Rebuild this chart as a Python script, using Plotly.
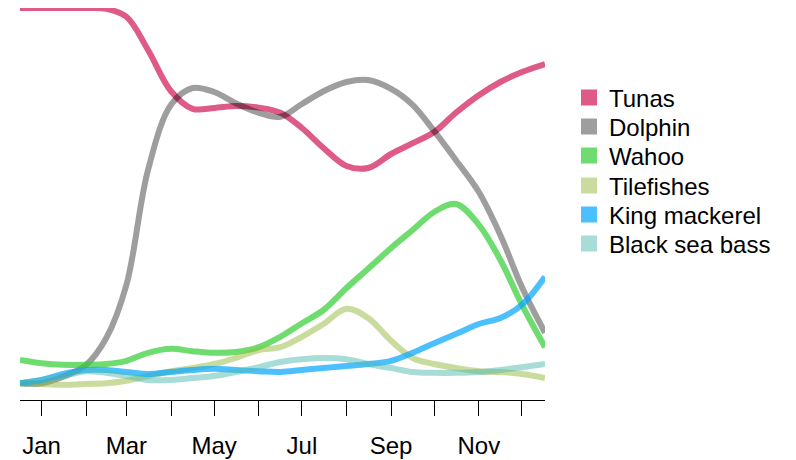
import plotly.graph_objects as go

# sample dates (mid-Dec of previous year to mid-Dec)
dates = [
    "2020-12-17", "2021-01-01", "2021-01-16", "2021-02-01", "2021-02-15",
    "2021-03-01", "2021-03-16", "2021-04-01", "2021-04-16", "2021-05-01",
    "2021-05-16", "2021-06-01", "2021-06-16", "2021-07-01", "2021-07-16",
    "2021-08-01", "2021-08-16", "2021-09-01", "2021-09-16", "2021-10-01",
    "2021-10-16", "2021-11-01", "2021-11-16", "2021-12-01", "2021-12-17",
]

tunas = [98.0, 98.0, 98.0, 98.0, 97.8, 95.8, 87.5, 77.2, 72.8, 73.0, 73.5, 73.1, 71.8,
         68.0, 63.0, 58.5, 58.0, 61.5, 64.2, 67.0, 71.8, 76.2, 79.5, 82.0, 84.0]
dolphin = [4.2, 4.2, 5.8, 8.8, 15.5, 28.8, 57.5, 73.8, 78.0, 77.0, 74.2, 71.8, 70.8,
           74.0, 77.2, 79.5, 80.0, 77.8, 73.8, 67.2, 60.0, 52.0, 41.2, 28.2, 16.8]
wahoo = [10.0, 9.2, 8.8, 8.8, 9.0, 9.8, 11.8, 12.8, 12.2, 11.8, 12.0, 13.2, 15.8,
         19.2, 22.5, 28.0, 32.8, 38.0, 42.5, 47.0, 49.0, 43.8, 35.0, 23.8, 13.2]
tilefishes = [4.2, 4.0, 3.8, 4.0, 4.2, 4.8, 6.0, 7.2, 8.0, 9.0, 10.5, 12.5, 13.2,
              15.8, 19.0, 22.8, 20.5, 14.8, 10.5, 9.0, 8.0, 7.2, 7.0, 6.5, 5.5]
king_mackerel = [4.2, 5.0, 6.5, 7.5, 7.5, 7.0, 6.5, 7.0, 7.5, 7.8, 7.5, 7.2, 7.0,
                 7.5, 8.0, 8.5, 9.0, 9.8, 11.8, 14.2, 16.5, 19.0, 20.5, 23.8, 30.8]
black_sea_bass = [4.2, 5.0, 6.0, 7.2, 6.8, 6.0, 5.0, 5.0, 5.5, 6.0, 7.0, 8.2, 9.5,
                  10.2, 10.5, 10.2, 9.0, 8.0, 7.0, 6.8, 6.8, 7.0, 7.5, 8.2, 9.0]

species = ["Tunas", "Dolphin", "Wahoo", "Tilefishes", "King mackerel", "Black sea bass"]
values = [tunas, dolphin, wahoo, tilefishes, king_mackerel, black_sea_bass]
colors = [
    "rgba(208,20,85,0.7)",
    "rgba(0,0,0,0.38)",
    "rgba(50,205,50,0.7)",
    "rgba(150,185,60,0.5)",
    "rgba(0,165,255,0.7)",
    "rgba(80,185,175,0.5)",
]

month_ticks = ["2021-%02d-01" % m for m in range(1, 13)]
month_labels = ["Jan", "", "Mar", "", "May", "", "Jul", "", "Sep", "", "Nov", ""]

font = "Liberation Sans, Arial, sans-serif"
W, H = 796, 460
# the page body adds an 8px offset, so the layout is pulled up/left by 8px
legend_rows = [90, 119, 148, 178, 207, 236]   # row centres, px from figure top
legend_left = 561

fig = go.Figure()

for name, ys, col in zip(species, values, colors):
    fig.add_trace(go.Scatter(
        x=dates, y=ys, mode="lines", name=name,
        line=dict(color=col, width=6, shape="spline", smoothing=1),
        showlegend=False, hoverinfo="skip",
    ))

# square legend keys, one small legend per row so the row spacing can be set
legends = {}
for i, (name, col) in enumerate(zip(species, colors)):
    key = "legend" if i == 0 else "legend%d" % (i + 1)
    fig.add_trace(go.Scatter(
        x=[None], y=[None], mode="markers", name=name, legend=key,
        marker=dict(symbol="square", size=16, color=col),
    ))
    legends[key] = dict(
        xref="container", yref="container",
        x=legend_left / W, y=1 - legend_rows[i] / H,
        xanchor="left", yanchor="middle",
        font=dict(family=font, size=24, color="black"),
        bgcolor="rgba(0,0,0,0)",
    )

fig.update_layout(
    width=W, height=H,
    margin=dict(l=12, r=259, t=0, b=68),
    paper_bgcolor="white", plot_bgcolor="white",
    font=dict(family=font, size=24, color="black"),
    **legends,
)

fig.update_xaxes(
    type="date",
    range=["2020-12-17", "2021-12-17"],
    tickvals=month_ticks, ticktext=month_labels,
    ticks="outside", ticklen=15, tickwidth=1.3, tickcolor="black",
    ticklabelstandoff=9,
    showline=True, linecolor="black", linewidth=1.3,
    showgrid=False, zeroline=False,
    tickfont=dict(size=24),
)
fig.update_yaxes(range=[0, 98], visible=False, showgrid=False, zeroline=False)

fig.write_html("out.html")
